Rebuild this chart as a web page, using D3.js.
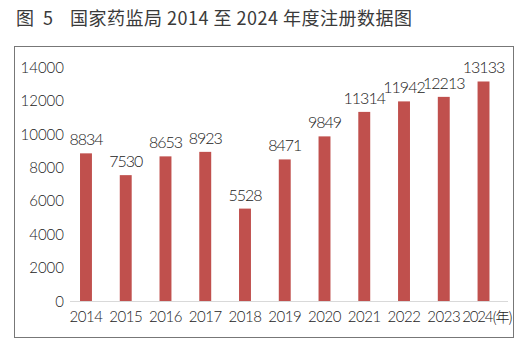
<!DOCTYPE html>
<html><head><meta charset="utf-8">
<script src="https://cdn.jsdelivr.net/npm/d3@7/dist/d3.min.js"></script>
<style>body{margin:0;background:#fff}svg{display:block}</style>
</head><body>
<script>
const years = ["2014","2015","2016","2017","2018","2019","2020","2021","2022","2023","2024"];
const counts = [8834,7530,8653,8923,5528,8471,9849,11314,11942,12213,13133];
const yTicks = [0,2000,4000,6000,8000,10000,12000,14000];
const titleNum = "图 5";
const titleText = "国家药监局 2014 至 2024 年度注册数据图";
const unitLabel = "(年)";

const W=516,H=346;
const svg=d3.select("body").append("svg").attr("width",W).attr("height",H);
const numFont="Lato, 'Liberation Sans', sans-serif";
const cjk="'Noto Sans CJK SC', sans-serif";

svg.append("text").attr("x",16).attr("y",25).attr("font-family",cjk).attr("font-size",18).attr("font-weight",400).attr("fill","#3a3a3a").attr("word-spacing","5").text(titleNum);
svg.append("text").attr("x",70).attr("y",25).attr("font-family",cjk).attr("font-size",18).attr("font-weight",400).attr("fill","#3a3a3a").attr("letter-spacing","0.5").text(titleText);

svg.append("rect").attr("x",14.5).attr("y",46.5).attr("width",499).attr("height",291).attr("fill","none").attr("stroke","#777").attr("stroke-width",1);

const x=d3.scaleBand().domain(years).range([66.1,503.4]).paddingInner(0.7).paddingOuter(0.35);
const y=d3.scaleLinear().domain([0,14000]).range([301,67]);

// baseline
svg.append("line").attr("x1",70).attr("x2",508).attr("y1",y(0)+0.5).attr("y2",y(0)+0.5).attr("stroke","#d9d9d9").attr("stroke-width",1.2);

const yAxis=d3.axisLeft(y).tickValues(yTicks).tickSize(0).tickPadding(0).tickFormat(d3.format("d"));
const gy=svg.append("g").attr("transform","translate(64,0)").call(yAxis);
gy.select(".domain").remove();
gy.selectAll("text").attr("font-family",numFont).attr("font-weight",300).attr("font-size",15).attr("fill","#222").attr("dy","0.35em");

const xAxis=d3.axisBottom(x).tickSize(0).tickPadding(0);
const gx=svg.append("g").attr("transform","translate(0,"+y(0)+")").call(xAxis);
gx.select(".domain").remove();
gx.selectAll("text").attr("font-family",numFont).attr("font-weight",300).attr("font-size",15).attr("fill","#222").attr("dy","0").attr("y",21).attr("letter-spacing","-0.5");
// last tick label carries the unit
const lastTick=gx.selectAll(".tick text").filter(d=>d===years[years.length-1]);
lastTick.attr("text-anchor","end").attr("x",28.5).attr("letter-spacing","-1.2");
lastTick.append("tspan").attr("font-family",cjk).attr("font-size",14).attr("letter-spacing","-1").text(unitLabel);

svg.selectAll("rect.bar").data(counts).join("rect").attr("class","bar")
 .attr("x",(d,i)=>x(years[i])).attr("width",x.bandwidth())
 .attr("y",d=>y(d)).attr("height",d=>y(0)-y(d)).attr("fill","#c0504d");

svg.selectAll("text.val").data(counts).join("text").attr("class","val")
 .attr("x",(d,i)=>x(years[i])+x.bandwidth()/2).attr("y",d=>y(d)-8)
 .attr("text-anchor","middle").attr("font-family",numFont).attr("font-weight",300).attr("font-size",16).attr("fill","#222").attr("letter-spacing","-1")
 .text(d=>d);
</script>
</body></html>
